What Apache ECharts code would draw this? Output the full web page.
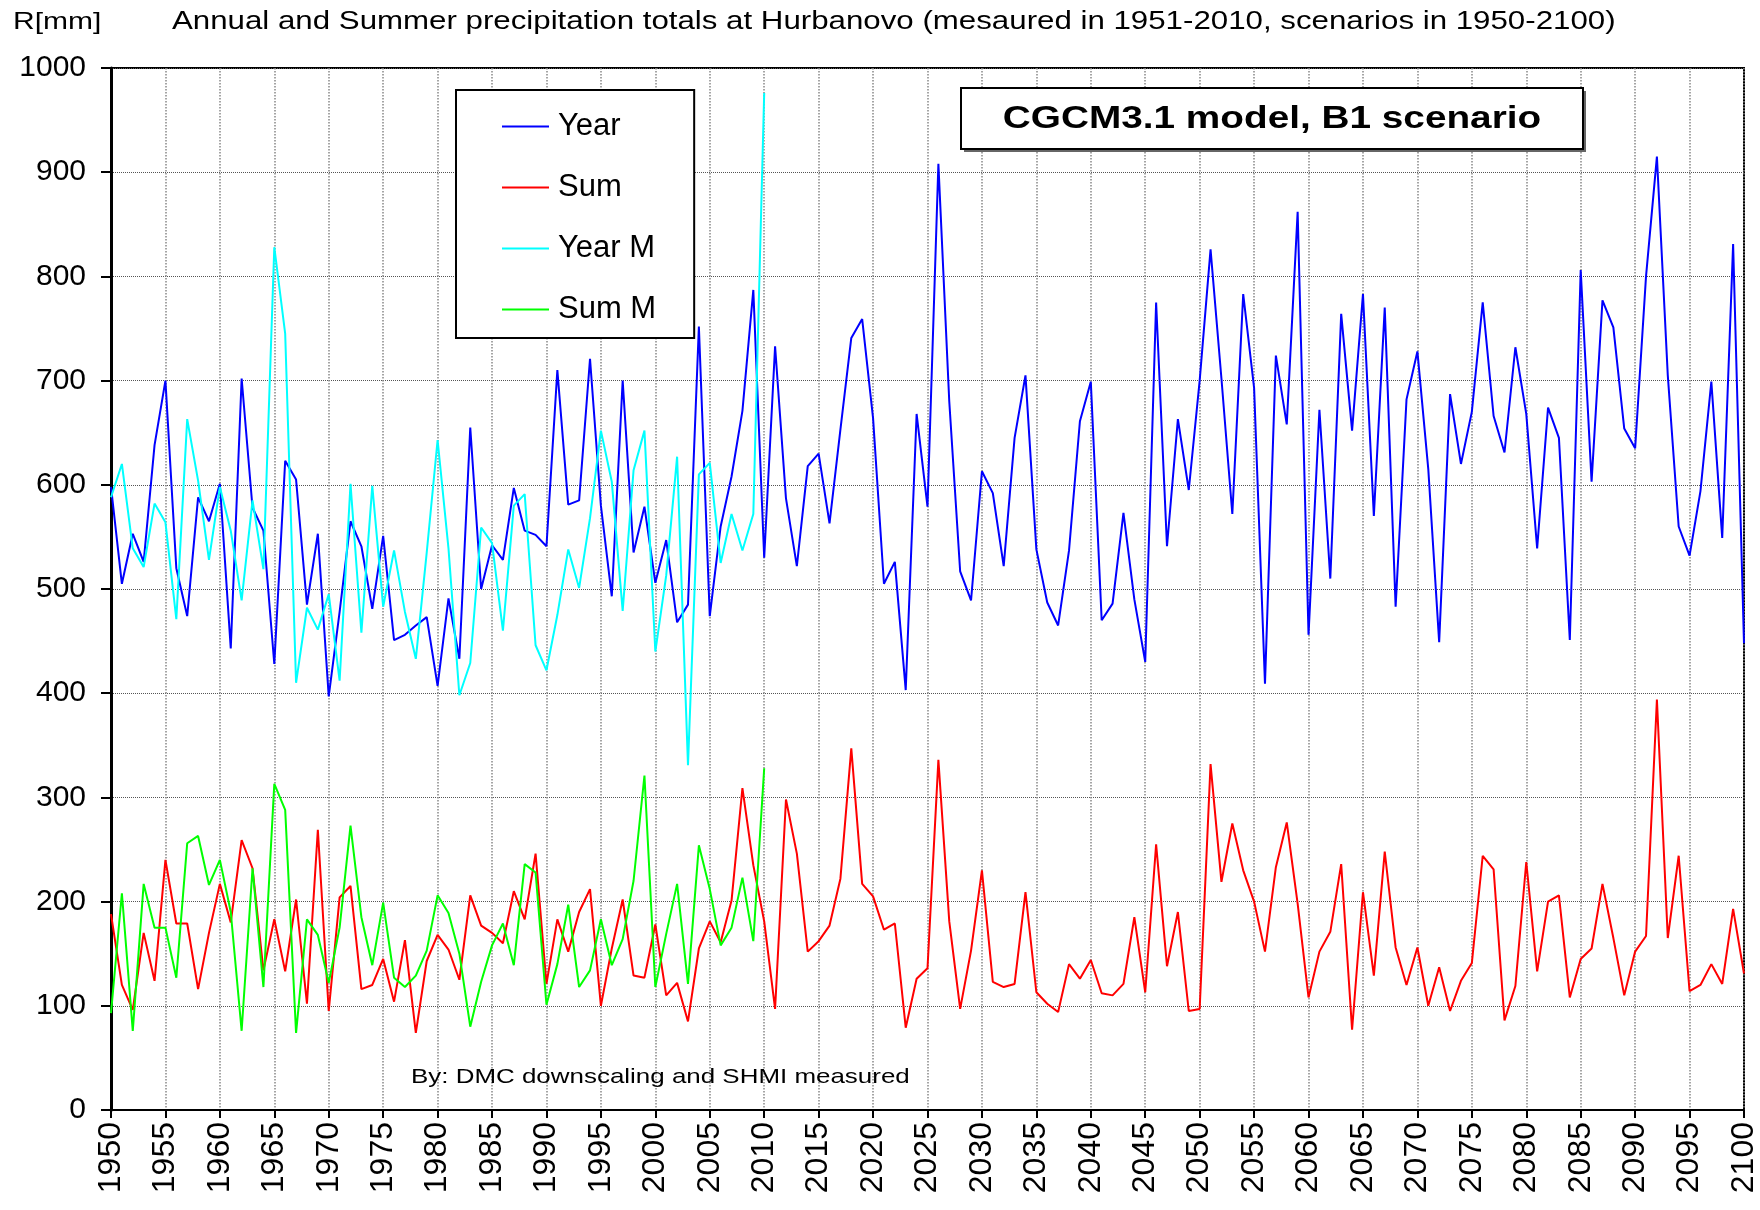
<!DOCTYPE html>
<html>
<head>
<meta charset="utf-8">
<script src="https://cdn.jsdelivr.net/npm/echarts@6/dist/echarts.min.js"></script>
<style>
html, body { margin: 0; padding: 0; background: #fff; }
#chart { width: 1760px; height: 1210px; }
</style>
</head>
<body>
<div id="chart"></div>
<script>
var FONT = 'Liberation Sans, Arial, sans-serif';

// categories 1950..2100
var years = [];
for (var y = 1950; y <= 2100; y++) years.push(String(y));

// scenario, annual totals [mm], 1950-2100
var yearVals = [
  598, 505, 553, 526, 638, 700, 520, 474, 588, 565,
  601, 443, 702, 578, 556, 428, 623, 605, 485, 553,
  397, 478, 565, 541, 481, 551, 451, 456, 465, 473,
  407, 491, 433, 655, 500, 542, 528, 597, 556, 552,
  541, 710, 581, 585, 721, 580, 493, 700, 535, 579,
  506, 547, 468, 485, 752, 474, 560, 608, 671, 787,
  530, 733, 587, 522, 618, 630, 563, 653, 741, 759,
  664, 505, 526, 403, 668, 579, 908, 680, 517, 489,
  613, 592, 522, 645, 705, 538, 487, 465, 537, 661,
  699, 470, 486, 573, 490, 430, 775, 541, 663, 595,
  700, 826, 702, 572, 783, 693, 409, 724, 658, 862,
  456, 672, 510, 764, 652, 783, 570, 770, 483, 682,
  728, 615, 449, 687, 620, 670, 775, 666, 631, 732,
  668, 539, 674, 645, 451, 806, 603, 777, 751, 654,
  635, 800, 915, 705, 560, 532, 594, 699, 549, 831,
  448
];

// scenario, summer totals [mm], 1950-2100
var sumVals = [
  188, 120, 96, 170, 124, 240, 179, 179, 116, 170,
  217, 180, 259, 232, 134, 183, 133, 202, 102, 269,
  95, 204, 215, 116, 120, 145, 104, 163, 74, 143,
  168, 154, 125, 206, 177, 170, 160, 210, 183, 246,
  121, 183, 152, 190, 212, 100, 155, 202, 129, 127,
  178, 110, 122, 85, 155, 181, 161, 201, 309, 235,
  181, 97, 298, 246, 152, 162, 177, 222, 347, 217,
  205, 173, 179, 79, 126, 136, 336, 181, 97, 153,
  230, 123, 118, 121, 209, 113, 102, 94, 140, 126,
  144, 112, 110, 121, 185, 113, 255, 138, 190, 95,
  97, 332, 219, 275, 230, 200, 152, 233, 276, 198,
  108, 152, 171, 236, 77, 209, 129, 248, 156, 120,
  156, 100, 137, 95, 124, 141, 244, 231, 86, 119,
  238, 133, 200, 206, 108, 145, 155, 217, 165, 110,
  152, 167, 394, 165, 244, 114, 120, 140, 121, 193,
  131
];

// measured (SHMI), annual totals [mm], 1950-2010
var yearMVals = [
  588, 620, 539, 521, 582, 564, 471, 663, 604, 528,
  598, 556, 489, 585, 519, 828, 745, 410, 482, 461,
  495, 412, 601, 458, 599, 483, 537, 478, 433, 535,
  643, 539, 398, 429, 559, 544, 460, 580, 591, 446,
  422, 475, 538, 501, 568, 652, 603, 479, 614, 652,
  440, 513, 627, 331, 610, 621, 525, 572, 537, 572,
  976
];

// measured (SHMI), summer totals [mm], 1950-2010
var sumMVals = [
  93, 208, 76, 217, 175, 175, 127, 256, 263, 216,
  240, 190, 76, 232, 118, 313, 288, 74, 183, 168,
  122, 175, 273, 185, 139, 199, 127, 118, 129, 153,
  206, 189, 150, 80, 123, 158, 179, 139, 236, 228,
  101, 140, 197, 118, 134, 183, 139, 164, 220, 321,
  118, 169, 217, 121, 254, 212, 158, 175, 223, 162,
  328
];

var chart = echarts.init(document.getElementById('chart'));

function lineSeries(name, color, data) {
  return {
    name: name,
    type: 'line',
    data: data,
    symbol: 'none',
    smooth: false,
    lineStyle: { color: color, width: 2 },
    itemStyle: { color: color }
  };
}

chart.setOption({
  animation: false,
  backgroundColor: '#fff',
  textStyle: { fontFamily: FONT },
  grid: {
    left: 111, right: 11, top: 68, bottom: 100,
    show: true, borderColor: '#000', borderWidth: 2
  },
  legend: {
    orient: 'vertical',
    left: 456, top: 90,
    padding: [21, 38, 13, 46],
    itemGap: 30,
    itemWidth: 47, itemHeight: 2,
    icon: 'rect',
    borderColor: '#000', borderWidth: 2,
    backgroundColor: '#fff',
    textStyle: { fontFamily: FONT, fontSize: 31, color: '#000', lineHeight: 30, padding: [0, 0, 0, 4] },
    data: ['Year', 'Sum', 'Year M', 'Sum M']
  },
  xAxis: {
    type: 'category',
    data: years,
    boundaryGap: false,
    axisLine: { lineStyle: { color: '#000', width: 2 } },
    axisTick: { show: true, interval: 4, length: 8, lineStyle: { color: '#000', width: 2 } },
    axisLabel: {
      interval: 4, rotate: 90, margin: 12,
      fontFamily: FONT, fontSize: 32, color: '#000'
    },
    splitLine: { show: true, interval: 4, lineStyle: { color: '#888', type: 'dotted', width: 1.5 } }
  },
  yAxis: {
    type: 'value',
    min: 0, max: 1000, interval: 100,
    axisLine: { show: true, lineStyle: { color: '#000', width: 3 } },
    axisTick: { show: true, length: 10, lineStyle: { color: '#000', width: 2 } },
    axisLabel: {
      margin: 25, fontFamily: FONT, fontSize: 30, color: '#000',
      formatter: function (v) { return String(v); }
    },
    splitLine: { show: true, lineStyle: { color: '#555', type: 'dotted', width: 1 } }
  },
  graphic: [
    {
      type: 'text', x: 13, y: 22, scaleX: 1.25,
      style: { text: 'R[mm]', font: '24px ' + FONT, fill: '#000', align: 'left', verticalAlign: 'middle' }
    },
    {
      type: 'text', x: 172, y: 22, scaleX: 1.25,
      style: {
        text: 'Annual and Summer precipitation totals at Hurbanovo (mesaured in 1951-2010, scenarios in 1950-2100)',
        font: '25px ' + FONT, fill: '#000', align: 'left', verticalAlign: 'middle'
      }
    },
    {
      type: 'rect', shape: { x: 964, y: 91, width: 622, height: 61 },
      style: { fill: '#666', stroke: null }, z: 100
    },
    {
      type: 'rect', shape: { x: 961, y: 88, width: 622, height: 61 },
      style: { fill: '#fff', stroke: '#000', lineWidth: 2 }, z: 101
    },
    {
      type: 'text', x: 1272, y: 119, scaleX: 1.25, z: 102,
      style: {
        text: 'CGCM3.1 model, B1 scenario',
        font: 'bold 31px ' + FONT, fill: '#000', align: 'center', verticalAlign: 'middle'
      }
    },
    {
      type: 'text', x: 411, y: 1077, scaleX: 1.235, z: 102,
      style: {
        text: 'By: DMC downscaling and SHMI measured',
        font: '21px ' + FONT, fill: '#000', align: 'left', verticalAlign: 'middle'
      }
    }
  ],
  series: [
    lineSeries('Year', '#0000ff', yearVals),
    lineSeries('Sum', '#ff0000', sumVals),
    lineSeries('Year M', '#00ffff', yearMVals),
    lineSeries('Sum M', '#00ff00', sumMVals)
  ]
});
</script>
</body>
</html>
